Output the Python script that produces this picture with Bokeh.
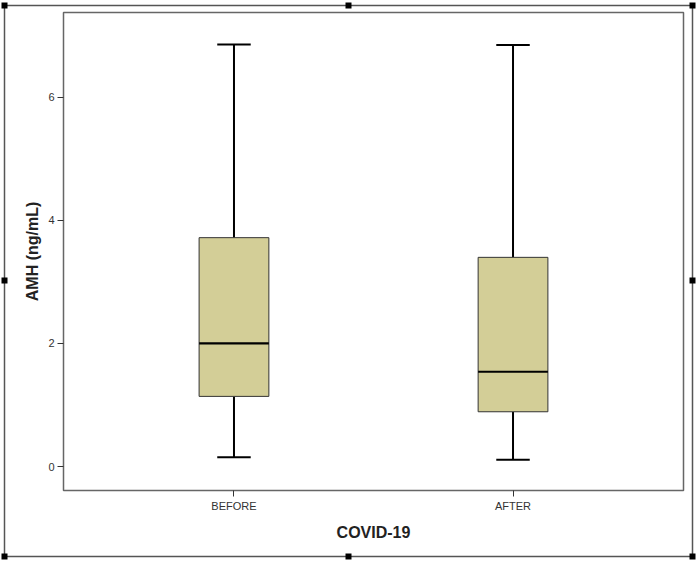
from bokeh.plotting import figure
from bokeh.layouts import column
from bokeh.models import ColumnDataSource, Range1d, FactorRange, FixedTicker
from bokeh.transform import dodge
from bokeh.embed import file_html
from bokeh.resources import INLINE

# ---- data ----
groups = ["BEFORE", "AFTER"]
whisker_low = [0.15, 0.11]
q1 = [1.14, 0.89]
median = [2.00, 1.54]
q3 = [3.72, 3.40]
whisker_high = [6.86, 6.85]
y_ticks = [0, 2, 4, 6]

W, H = 698, 562

# ---- background canvas: chart-object border with selection handles ----
bg = figure(width=W, height=H, output_backend="svg", toolbar_location=None,
            x_range=Range1d(0, W), y_range=Range1d(H, 0),
            x_axis_location=None, y_axis_location=None,
            min_border=0, min_border_left=0, min_border_right=0,
            min_border_top=0, min_border_bottom=0)
bg.frame_align = False
bg.outline_line_color = None
bg.xgrid.visible = False
bg.ygrid.visible = False
frame_box = dict(left=[4], right=[692], top=[5], bottom=[556])
bg.quad(source=ColumnDataSource(frame_box), left="left", right="right",
        top="top", bottom="bottom", fill_color=None, line_color="#555555",
        line_width=1.5)
handle_x = [4, 348, 692, 4, 692, 4, 348, 692]
handle_y = [5, 5, 5, 280, 280, 556, 556, 556]
bg.rect(x=handle_x, y=handle_y, width=6, height=6, fill_color="black",
        line_color=None)

# ---- the box plot ----
src = ColumnDataSource(dict(cat=groups, lo=whisker_low, q1=q1, med=median,
                            q3=q3, hi=whisker_high))

p = figure(width=W, height=H, output_backend="svg", toolbar_location=None,
           x_range=FactorRange(factors=groups, range_padding=0.111,
                               range_padding_units="percent"),
           y_range=Range1d(-0.39, 7.38),
           min_border_left=63, min_border_right=15, min_border_top=12,
           min_border_bottom=72)
p.frame_align = False
p.margin = (-H, 0, 0, 0)
p.background_fill_color = "white"
p.border_fill_alpha = 0
p.outline_line_color = "#666666"
p.outline_line_width = 1.5
p.xgrid.visible = False
p.ygrid.visible = False

box_w = 0.25
cap_w = 0.12

p.segment(x0="cat", y0="lo", x1="cat", y1="q1", source=src, line_color="black", line_width=2)
p.segment(x0="cat", y0="q3", x1="cat", y1="hi", source=src, line_color="black", line_width=2)
p.segment(x0=dodge("cat", -cap_w / 2, range=p.x_range), y0="lo",
          x1=dodge("cat", cap_w / 2, range=p.x_range), y1="lo",
          source=src, line_color="black", line_width=2)
p.segment(x0=dodge("cat", -cap_w / 2, range=p.x_range), y0="hi",
          x1=dodge("cat", cap_w / 2, range=p.x_range), y1="hi",
          source=src, line_color="black", line_width=2)
p.vbar(x="cat", width=box_w, bottom="q1", top="q3", source=src,
       fill_color="#D3CE97", line_color="#333333", line_width=1)
p.segment(x0=dodge("cat", -box_w / 2, range=p.x_range), y0="med",
          x1=dodge("cat", box_w / 2, range=p.x_range), y1="med",
          source=src, line_color="black", line_width=2.2)

for ax in (p.xaxis[0], p.yaxis[0]):
    ax.axis_line_color = None
    ax.major_tick_in = 0
    ax.major_tick_out = 6
    ax.major_tick_line_color = "#333333"
    ax.minor_tick_line_color = None
    ax.major_label_text_font = "Liberation Sans"
    ax.major_label_text_font_size = "11px"
    ax.major_label_text_color = "#333333"
    ax.axis_label_text_font = "Liberation Sans"
    ax.axis_label_text_font_size = "16px"
    ax.axis_label_text_font_style = "bold"
    ax.axis_label_text_color = "#222222"

p.xaxis.axis_label = "COVID-19"
p.xaxis.major_label_standoff = 3
p.xaxis.axis_label_standoff = 9
p.yaxis.axis_label = "AMH (ng/mL)"
p.yaxis.ticker = FixedTicker(ticks=y_ticks)
p.yaxis.major_label_standoff = 3
p.yaxis.axis_label_standoff = 4

layout = column(bg, p)
open("out.html", "w").write(file_html(layout, INLINE))
